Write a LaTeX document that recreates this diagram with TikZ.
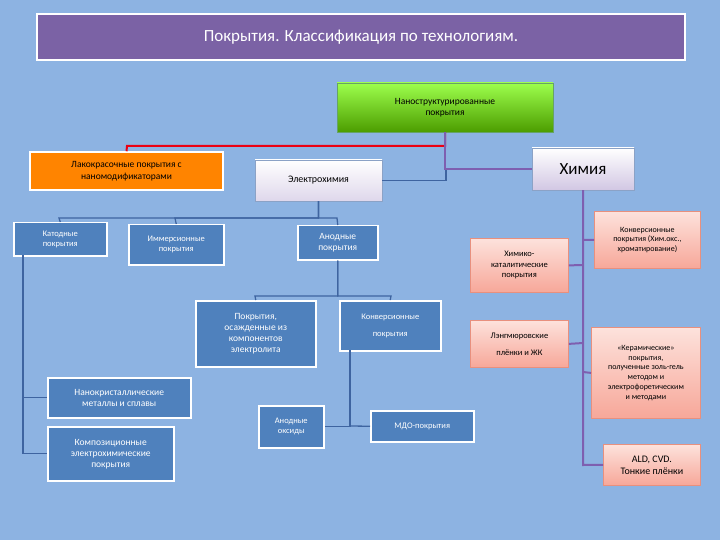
\documentclass[tikz,border=0pt]{standalone}
\usepackage{fontspec}
\setmainfont{Carlito}
\begin{document}
\begin{tikzpicture}[x=1pt,y=-1pt,
 bx/.style={draw=white,line width=1.5pt,fill=blue1,text=white,align=center,inner sep=1pt,font=\fontsize{8.5}{10}\selectfont},
 px/.style={draw=pinkb,line width=0.8pt,top color=pinkt,bottom color=pinkd,text=black,align=center,inner sep=1pt,font=\fontsize{8}{9.5}\selectfont},
 bl/.style={draw=line1,line width=1.3pt},
 pl/.style={draw=purp,line width=2pt}]
\definecolor{bg}{HTML}{8DB3E2}
\definecolor{blue1}{HTML}{4F81BD}
\definecolor{line1}{HTML}{3E64A0}
\definecolor{purp}{HTML}{7E5FB0}
\definecolor{pinkt}{HTML}{FDE2DC}
\definecolor{pinkd}{HTML}{F7A799}
\definecolor{pinkb}{HTML}{E8907E}
\definecolor{tit}{HTML}{7B62A5}
\fill[bg] (0,0) rectangle (720,540);
\useasboundingbox (0,0) rectangle (720,540);
\def\B(#1,#2,#3,#4){(#1,#2) rectangle (#3,#4)}
% title
\node[draw=white,line width=1.5pt,fill=tit,minimum width=648pt,minimum height=46pt,text=white,font=\fontsize{17}{20}\selectfont] (t) at (361,37) {Покрытия. Классификация по технологиям.};
\node[draw=green!40!black!60,top color=green!55!yellow!70!white,bottom color=green!45!black!70!yellow,minimum width=216pt,minimum height=49pt,align=center,font=\fontsize{9.5}{11.5}\selectfont] (n) at (445,107.5) {Наноструктурированные\\покрытия};
\node[draw=white,line width=1.5pt,fill=orange!85!yellow!90!red,minimum width=193pt,minimum height=38pt,align=center,font=\fontsize{9.5}{11.5}\selectfont,inner sep=1pt] (o) at (126.5,171) {Лакокрасочные покрытия с\\наномодификаторами};
\node[draw=line1!60,top color=white,bottom color=purp!25,minimum width=127pt,minimum height=41pt,font=\fontsize{10}{12}\selectfont] (e) at (318.5,180.5) {Электрохимия};
\node[draw=line1!60,top color=white,bottom color=purp!35,minimum width=102pt,minimum height=42pt,font=\fontsize{17}{20}\selectfont] (h) at (583,169) {Химия};
% blue boxes
\node[bx,minimum width=93pt,minimum height=33pt,anchor=north west] (k) at (13,222) {Катодные\\покрытия};
\node[bx,minimum width=95pt,minimum height=40pt,anchor=north west] (i) at (128,224) {Иммерсионные\\покрытия};
\node[bx,minimum width=80pt,minimum height=34pt,anchor=north west,font=\fontsize{9.5}{11}\selectfont] (a) at (297,225) {Анодные\\покрытия};
\node[bx,minimum width=120pt,minimum height=66pt,anchor=north west,font=\fontsize{9.5}{11}\selectfont] (p) at (195,300) {Покрытия,\\осажденные из\\компонентов\\электролита};
\node[bx,minimum width=101pt,minimum height=50pt,anchor=north west,font=\fontsize{8.5}{17}\selectfont] (c) at (339,300) {Конверсионные\\покрытия};
\node[bx,minimum width=143pt,minimum height=40pt,anchor=north west,font=\fontsize{9.5}{11}\selectfont] (nk) at (47,377) {Нанокристаллические\\металлы и сплавы};
\node[bx,minimum width=126pt,minimum height=54pt,anchor=north west,font=\fontsize{9.5}{11}\selectfont] (kc) at (47,426) {Композиционные\\электрохимические\\покрытия};
\node[bx,minimum width=65pt,minimum height=42pt,anchor=north west] (ao) at (258,405) {Анодные\\оксиды};
\node[bx,minimum width=103pt,minimum height=31pt,anchor=north west] (m) at (370,410) {МДО-покрытия};
% pink
\node[px,minimum width=106pt,minimum height=57pt,anchor=north west] (hc) at (594,211) {Конверсионные\\покрытия (Хим.окс.,\\хроматирование)};
\node[px,minimum width=98pt,minimum height=54pt,anchor=north west,font=\fontsize{8.5}{10.5}\selectfont] (hk) at (470,238) {Химико-\\каталитические\\покрытия};
\node[px,minimum width=98pt,minimum height=47pt,anchor=north west,font=\fontsize{8.5}{17}\selectfont] (l) at (470,320) {Лэнгмюровские\\плёнки и ЖК};
\node[px,minimum width=109pt,minimum height=91pt,anchor=north west,font=\fontsize{8}{9.8}\selectfont] (ce) at (591,327) {«Керамические»\\покрытия,\\полученные золь-гель\\методом и\\электрофоретическим\\и методами};
\node[px,minimum width=97pt,minimum height=41pt,anchor=north west,font=\fontsize{10}{12}\selectfont] (ald) at (603,444) {ALD, CVD.\\Тонкие плёнки};
% connectors
\draw[red!70!purple,line width=2pt] (n.south) |- (127,146) -- (o.north);
\draw[pl] (n.south) |- (h.west);
\draw[bl] (e.east) -| (446,170);
\draw[bl] (e.south) |- (59,218) -- (k.north);
\draw[bl] (e.south) |- (175,218) -- (i.north);
\draw[bl] (e.south) |- (337,218) -- (a.north);
\draw[bl] (a.south) |- (255,296) -- (p.north);
\draw[bl] (a.south) |- (391,296) -- (c.north);
\draw[bl] (23,255) |- (nk.west);
\draw[bl] (23,255) |- (kc.west);
\draw[bl] (350,350) |- (ao.east);
\draw[bl] (350,426) -- (m.west);
\draw[pl] (h.south) -- (583,465) -- (ald.west);
\draw[pl] (583,240) -- (hc.west);
\draw[pl] (583,265) -- (hk.east);
\draw[pl] (583,343) -- (l.east);
\draw[pl] (583,372) -- (ce.west);
\end{tikzpicture}
\end{document}
